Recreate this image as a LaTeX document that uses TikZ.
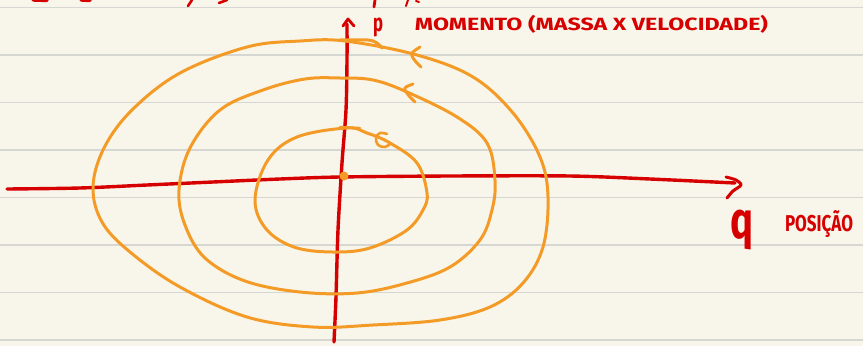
\documentclass[tikz,border=0pt]{standalone}
\usepackage{fontspec}
\setmainfont{Fira Sans}
\definecolor{paper}{HTML}{F8F6EA}
\definecolor{rulegray}{HTML}{D6D6D2}
\definecolor{ink}{HTML}{D60000}
\definecolor{orng}{HTML}{F49B27}
\begin{document}
\begin{tikzpicture}[x=1pt,y=-1pt,
  axis/.style={draw=ink,line width=3.4pt,line cap=round,line join=round},
  orbit/.style={draw=orng,line width=3pt,line cap=round,line join=round},
  ruling/.style={draw=rulegray,line width=1.5pt},
  inklabel/.style={text=ink,inner sep=0pt,font=\bfseries}]
\fill[paper] (0,0) rectangle (863,346);
\useasboundingbox (0,0) rectangle (863,346);
\foreach \y in {7.3,54.8,102.3,149.8,197.3,244.8,292.3,339.8}
  \draw[ruling] (0,\y) -- (863,\y);
% fragments of the line above
\draw[axis] (33,0) -- (47,0.5);
\draw[axis] (81,0) -- (90,0.5);
\draw[axis,line width=2.6pt] (192,0) -- (188,6);
\draw[axis,line width=2.6pt] (227,0) -- (219,3);
\draw[axis,line width=2.8pt] (375,0) -- (374,7);
\draw[axis,line width=2pt] (408,0) -- (406,6);
\draw[axis,line width=2pt] (416,1) -- (419,2);
% axes
\coordinate (qs) at (7,189);
\coordinate (qe) at (741,185);
\coordinate (ps) at (334,342);
\coordinate (pe) at (348,19);
\draw[axis] plot[smooth,tension=0.5] coordinates {(qs) (80,188) (147,185) (213,182) (280,179) (340,177) (450,176) (570,176) (650,179) (735,183)};
\draw[axis,line width=3pt] plot[smooth,tension=0.5] coordinates {(726,177) (736,180) (qe) (733,191) (727,198)};
\draw[axis] plot[smooth,tension=0.5] coordinates {(ps) (336,297) (338,230) (342,163) (346,110) (347,60) (347,24)};
\draw[axis,line width=2.8pt] (343,26) -- (pe) -- (354,26);
% orbits
\draw[orbit] plot[smooth cycle,tension=0.6] coordinates {(345,41) (300,41) (247,47) (180,73) (132,110) (104,148) (93,187) (102,222) (130,252) (180,287) (247,317) (313,327) (373,325) (440,320) (490,307) (523,283) (543,247) (548,197) (540,157) (513,113) (473,77) (417,55)};
\draw[orbit] plot[smooth,tension=0.5] coordinates {(340,40) (368,40) (377,43) (382,48)};
\draw[orbit] plot[smooth,tension=0.5] coordinates {(420,47) (413,52) (412,56) (416,62) (421,67)};
\draw[orbit] plot[smooth cycle,tension=0.6] coordinates {(340,78) (373,80) (407,92) (457,117) (487,143) (495,180) (492,210) (480,240) (450,267) (407,283) (357,293) (300,292) (245,281) (205,258) (185,225) (179,190) (190,148) (220,110) (263,90) (305,79)};
\draw[orbit] plot[smooth,tension=0.5] coordinates {(413,84) (406,87) (405,90) (410,97) (415,102)};
\draw[orbit] plot[smooth cycle,tension=0.6] coordinates {(347,128) (367,133) (390,143) (417,163) (427,193) (423,210) (407,230) (373,247) (340,252) (297,248) (267,230) (255,200) (268,160) (297,137)};
\draw[orbit,line width=2.6pt] plot[smooth,tension=0.6] coordinates {(387,134) (380,133) (376,138) (378,145) (385,147) (390,144)};
\draw[orbit,line width=2.4pt] (340,127) -- (360,128);
\fill[orng] (344,176) circle (4.5pt);
% labels
\node[inklabel] (plab) at (378,27.5) {\resizebox*{10pt}{19pt}{p}};
\node[inklabel] (ptext) at (591.5,24.5) {\resizebox*{353pt}{18pt}{MOMENTO (MASSA X VELOCIDADE)}};
\node[inklabel] (qlab) at (741.5,230) {\resizebox*{23pt}{40pt}{q}};
\node[inklabel] (qtext) at (819,224) {\resizebox*{68pt}{27pt}{POSIÇÃO}};
\end{tikzpicture}
\end{document}
